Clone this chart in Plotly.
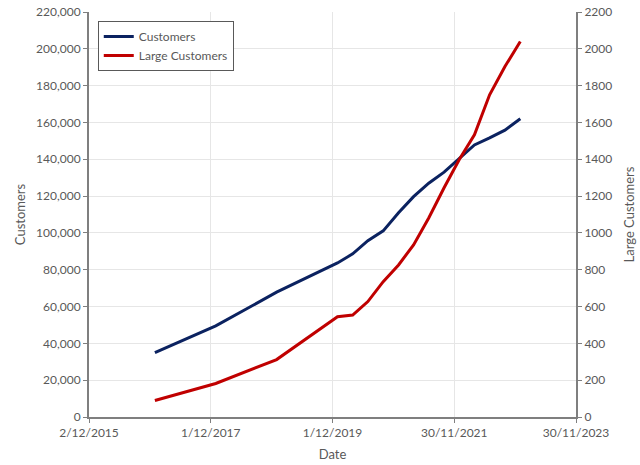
import plotly.graph_objects as go

dates = [
    "2016-12-31", "2017-12-31", "2018-12-31",
    "2019-12-31", "2020-03-31", "2020-06-30", "2020-09-30",
    "2020-12-31", "2021-03-31", "2021-06-30", "2021-09-30",
    "2021-12-31", "2022-03-31", "2022-06-30", "2022-09-30",
    "2022-12-31",
]
customers = [
    35000, 49500, 67800,
    83700, 88600, 95800, 101100,
    110900, 119700, 127000, 133000,
    140500, 147800, 151600, 155800,
    162000,
]
large_customers = [
    90, 182, 312,
    545, 554, 627, 735,
    826, 935, 1081, 1245,
    1400, 1533, 1750, 1904,
    2040,
]

tick_dates = ["2015-12-02", "2017-12-01", "2019-12-01", "2021-11-30", "2023-11-30"]
tick_text = ["2/12/2015", "1/12/2017", "1/12/2019", "30/11/2021", "30/11/2023"]

font = "Lato, 'Open Sans', sans-serif"
grey = "#595959"
axis_col = "#7f7f7f"

fig = go.Figure()
fig.add_trace(go.Scatter(
    x=dates, y=customers, name="Customers",
    mode="lines", line=dict(color="#0b2260", width=3),
))
fig.add_trace(go.Scatter(
    x=dates, y=large_customers, name="Large Customers",
    mode="lines", line=dict(color="#c00000", width=3),
    yaxis="y2",
))

fig.update_layout(
    width=640, height=465,
    margin=dict(l=89, r=64, t=12, b=48),
    paper_bgcolor="white", plot_bgcolor="white",
    font=dict(family=font, size=12, color=grey),
    showlegend=True,
    legend=dict(
        x=0.018, y=0.978, xanchor="left", yanchor="top",
        bgcolor="white", bordercolor="#595959", borderwidth=1,
        font=dict(size=12, color=grey),
        tracegroupgap=0, itemwidth=30,
    ),
    xaxis=dict(
        type="date",
        range=["2015-12-02", "2023-11-30"],
        tickvals=tick_dates, ticktext=tick_text,
        showgrid=True, gridcolor="#e6e6e6", gridwidth=1,
        showline=True, linecolor=axis_col, linewidth=2,
        ticks="outside", ticklen=4, tickcolor=axis_col,
        title=dict(text="Date", font=dict(size=13, color=grey), standoff=10),
        zeroline=False, automargin=False, ticklabeloverflow="allow",
    ),
    yaxis=dict(
        range=[0, 220000], dtick=20000, tickformat=",",
        showgrid=True, gridcolor="#e6e6e6", gridwidth=1,
        showline=True, linecolor=axis_col, linewidth=2,
        ticks="outside", ticklen=4, tickcolor=axis_col,
        title=dict(text="Customers", font=dict(size=13, color=grey), standoff=8),
        zeroline=False, automargin=False, ticklabeloverflow="allow",
    ),
    yaxis2=dict(
        range=[0, 2200], dtick=200,
        overlaying="y", side="right",
        showgrid=False,
        showline=True, linecolor=axis_col, linewidth=2,
        ticks="outside", ticklen=4, tickcolor=axis_col,
        title=dict(text="Large Customers", font=dict(size=13, color=grey), standoff=14),
        zeroline=False, automargin=False, ticklabeloverflow="allow",
    ),
)

# drop the default 8px body margin so the figure fills the window
fig.write_html(
    "out.html",
    config={"displayModeBar": False},
    post_script="document.body.style.margin='0px';",
)
